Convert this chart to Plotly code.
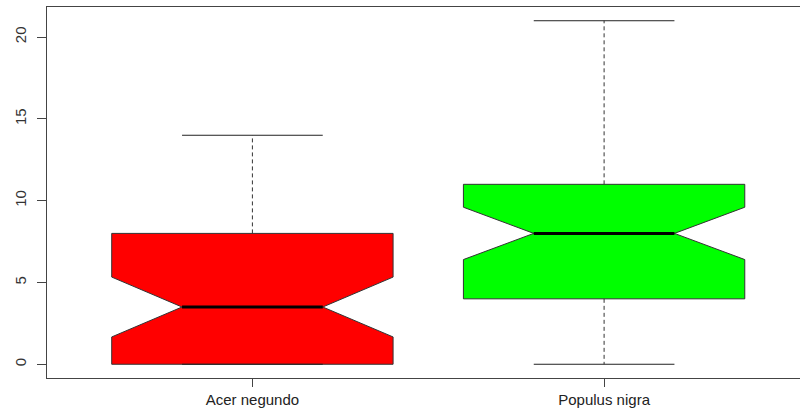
import plotly.graph_objects as go

# ---- data ----
categories = ["Acer negundo", "Populus nigra"]
positions = [1, 2]
fill_colors = ["#FF0000", "#00FF00"]
whisker_low = [0.0, 0.0]
q1 = [0.0, 4.0]
median = [3.5, 8.0]
q3 = [8.0, 11.0]
whisker_high = [14.0, 21.0]
notch_span = [1.83, 1.6]
y_ticks = [0, 5, 10, 15, 20]

BOX_WIDTH = 0.8
NOTCH_WIDTH = 0.25
CAP_HALF = BOX_WIDTH / 4
EDGE = "#333333"

fig = go.Figure()

for i, name in enumerate(categories):
    p = positions[i]
    # dashed whiskers
    fig.add_trace(go.Scatter(
        x=[p, p, None, p, p],
        y=[q3[i], whisker_high[i], None, q1[i], whisker_low[i]],
        mode="lines", line=dict(color=EDGE, width=1, dash="4px,3px"),
        hoverinfo="skip", showlegend=False))
    # whisker caps
    fig.add_trace(go.Scatter(
        x=[p - CAP_HALF, p + CAP_HALF, None, p - CAP_HALF, p + CAP_HALF],
        y=[whisker_high[i], whisker_high[i], None, whisker_low[i], whisker_low[i]],
        mode="lines", line=dict(color="#222222", width=1),
        hoverinfo="skip", showlegend=False))
    # notched box (whiskers collapsed onto the box)
    fig.add_trace(go.Box(
        x=[p], q1=[q1[i]], median=[median[i]], q3=[q3[i]],
        lowerfence=[q1[i]], upperfence=[q3[i]],
        notched=True, notchspan=[notch_span[i]], notchwidth=NOTCH_WIDTH,
        width=BOX_WIDTH, fillcolor=fill_colors[i],
        line=dict(color=EDGE, width=1), whiskerwidth=0,
        boxpoints=False, name=name, showlegend=False))
    # thick median line
    mh = BOX_WIDTH / 4
    fig.add_trace(go.Scatter(
        x=[p - mh, p + mh], y=[median[i], median[i]],
        mode="lines", line=dict(color="#000000", width=3),
        hoverinfo="skip", showlegend=False))

fig.update_layout(
    width=800, height=416,
    margin=dict(l=47, r=0, t=7, b=38),
    paper_bgcolor="white", plot_bgcolor="white",
    font=dict(family="Liberation Sans, Arial, sans-serif", color="#222222"),
    showlegend=False,
    xaxis=dict(
        range=[0.416, 2.557], tickmode="array", tickvals=positions, ticktext=categories,
        showgrid=False, zeroline=False, showline=True, linecolor="#444444", linewidth=1,
        mirror=True, ticks="outside", ticklen=8, tickcolor="#444444", automargin=False,
        tickfont=dict(size=15, color="#222222")),
    yaxis=dict(
        range=[-0.84, 21.84], tickmode="array", tickvals=y_ticks,
        showgrid=False, zeroline=False, showline=True, linecolor="#444444", linewidth=1,
        ticks="outside", ticklen=9, tickcolor="#444444", tickangle=-90, automargin=False,
        ticklabelstandoff=5, tickfont=dict(size=15, color="#333333")),
)

fig.write_html("out.html", config={"displayModeBar": False},
               post_script="document.body.style.margin='0';")
